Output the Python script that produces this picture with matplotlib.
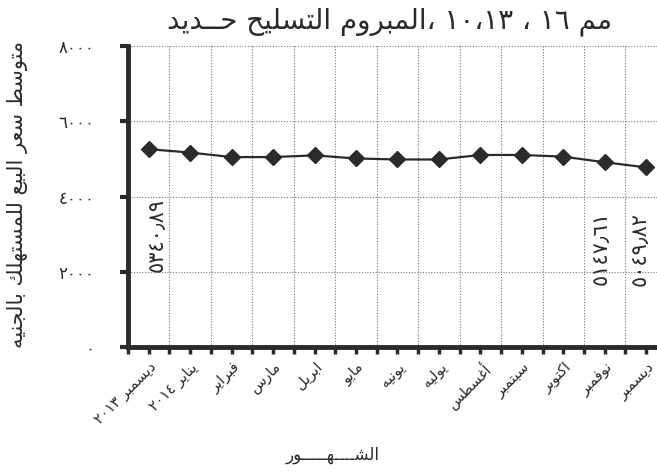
import numpy as np
import matplotlib
matplotlib.use("Agg")
import matplotlib.pyplot as plt

# ---------------- data ----------------
months = ["ديسمبر ٢٠١٣", "يناير ٢٠١٤", "فبراير", "مارس", "ابريل", "مايو",
          "يونيه", "يوليه", "أغسطس", "سبتمبر", "اكتوبر", "نوفمبر", "ديسمبر"]
prices = [5258, 5168, 5048, 5048, 5093, 5011, 4984, 4984, 5104, 5104, 5059, 4910, 4774]
ytick_vals = [0, 2000, 4000, 6000, 8000]
ytick_labels = ["٠", "٢٠٠٠", "٤٠٠٠", "٦٠٠٠", "٨٠٠٠"]
note_idx = [0, 11, 12]
note_texts = ["٥٣٤٠٫٨٩", "٥١٤٧٫٦١", "٥٠٤٩٫٨٢"]
title_words = ["حــديد", "التسليح", "المبروم،", "١٠،١٣", "،", "١٦", "مم"]
ylabel_text = "متوسط سعر البيع للمستهلك بالجنيه"
xlabel_text = "الشــــهـــــور"

# ---------------- minimal Arabic shaping ----------------
FORMS = {
    'ا': ('\uFE8D', '\uFE8E', None, None), 'أ': ('\uFE83', '\uFE84', None, None),
    'إ': ('\uFE87', '\uFE88', None, None), 'آ': ('\uFE81', '\uFE82', None, None),
    'ب': ('\uFE8F', '\uFE90', '\uFE91', '\uFE92'), 'ة': ('\uFE93', '\uFE94', None, None),
    'ت': ('\uFE95', '\uFE96', '\uFE97', '\uFE98'), 'ث': ('\uFE99', '\uFE9A', '\uFE9B', '\uFE9C'),
    'ج': ('\uFE9D', '\uFE9E', '\uFE9F', '\uFEA0'), 'ح': ('\uFEA1', '\uFEA2', '\uFEA3', '\uFEA4'),
    'خ': ('\uFEA5', '\uFEA6', '\uFEA7', '\uFEA8'), 'د': ('\uFEA9', '\uFEAA', None, None),
    'ذ': ('\uFEAB', '\uFEAC', None, None), 'ر': ('\uFEAD', '\uFEAE', None, None),
    'ز': ('\uFEAF', '\uFEB0', None, None), 'س': ('\uFEB1', '\uFEB2', '\uFEB3', '\uFEB4'),
    'ش': ('\uFEB5', '\uFEB6', '\uFEB7', '\uFEB8'), 'ص': ('\uFEB9', '\uFEBA', '\uFEBB', '\uFEBC'),
    'ض': ('\uFEBD', '\uFEBE', '\uFEBF', '\uFEC0'), 'ط': ('\uFEC1', '\uFEC2', '\uFEC3', '\uFEC4'),
    'ظ': ('\uFEC5', '\uFEC6', '\uFEC7', '\uFEC8'), 'ع': ('\uFEC9', '\uFECA', '\uFECB', '\uFECC'),
    'غ': ('\uFECD', '\uFECE', '\uFECF', '\uFED0'), 'ف': ('\uFED1', '\uFED2', '\uFED3', '\uFED4'),
    'ق': ('\uFED5', '\uFED6', '\uFED7', '\uFED8'), 'ك': ('\uFED9', '\uFEDA', '\uFEDB', '\uFEDC'),
    'ل': ('\uFEDD', '\uFEDE', '\uFEDF', '\uFEE0'), 'م': ('\uFEE1', '\uFEE2', '\uFEE3', '\uFEE4'),
    'ن': ('\uFEE5', '\uFEE6', '\uFEE7', '\uFEE8'), 'ه': ('\uFEE9', '\uFEEA', '\uFEEB', '\uFEEC'),
    'و': ('\uFEED', '\uFEEE', None, None), 'ى': ('\uFEEF', '\uFEF0', None, None),
    'ي': ('\uFEF1', '\uFEF2', '\uFEF3', '\uFEF4'),
}
TATWEEL = 'ـ'
DIGITS = set('0123456789٠١٢٣٤٥٦٧٨٩')


def _joins_next(c):
    return c == TATWEEL or (c in FORMS and FORMS[c][2] is not None)


def _joinable(c):
    return c == TATWEEL or c in FORMS


def shape(s):
    out = []
    for i, c in enumerate(s):
        if c not in FORMS:
            out.append(c)
            continue
        prev = s[i - 1] if i > 0 else ''
        nxt = s[i + 1] if i + 1 < len(s) else ''
        jp = bool(prev) and _joins_next(prev)
        jn = bool(nxt) and _joinable(nxt) and FORMS[c][2] is not None
        iso, fin, ini, med = FORMS[c]
        out.append(med if (jp and jn) else fin if jp else ini if jn else iso)
    return ''.join(out)


def rtl(s):
    sh = shape(s)
    runs, i = [], 0
    while i < len(sh):
        if sh[i] in DIGITS:
            j = i
            while j < len(sh) and (sh[j] in DIGITS or (sh[j] in '٫.,،' and j + 1 < len(sh) and sh[j + 1] in DIGITS)):
                j += 1
            runs.append(sh[i:j])
            i = j
        else:
            runs.append(sh[i])
            i += 1
    return ''.join(reversed(runs))


def ltr_words(words):
    out = []
    for w in words:
        if w.endswith('،') and len(w) > 1:
            out.append(rtl(w[:-1]) + '،')
        else:
            out.append(rtl(w))
    return ' '.join(out)


# ---------------- figure ----------------
plt.rcParams['font.family'] = ['DejaVu Sans']
W, H = 657, 472
fig = plt.figure(figsize=(W / 100, H / 100), dpi=100)
fig.patch.set_facecolor('white')
ax = fig.add_axes([128 / W, (H - 347) / H, (W - 128) / W, (347 - 46) / H])

ink = '#2b2b2b'
x = np.arange(len(months))
ax.plot(x, prices, color=ink, lw=1.6, marker='D', ms=8, mfc=ink, mec=ink, zorder=3)

ax.set_xlim(-0.5, 12.26)
ax.set_ylim(0, 8000)

for s in ['top', 'right']:
    ax.spines[s].set_visible(False)
for s in ['left', 'bottom']:
    ax.spines[s].set_linewidth(3.5)
    ax.spines[s].set_color(ink)

ax.set_yticks(ytick_vals)
ax.set_yticklabels(ytick_labels, fontsize=12, color=ink)
ax.set_xticks(x)
ax.set_xticklabels([rtl(m) for m in months], rotation=45, ha='right', va='top',
                   rotation_mode='anchor', fontsize=10.5, color=ink)
ax.set_xticks(np.arange(-0.5, 12.5, 1.0), minor=True)
ax.tick_params(axis='x', which='both', direction='out', length=5, width=2.5, color=ink, pad=4)
ax.tick_params(axis='y', which='major', direction='out', length=6, width=3, color=ink, pad=18)

grid_style = dict(color='#7a7a7a', linestyle=(0, (1, 1.5)), linewidth=0.8)
ax.grid(axis='y', which='major', **grid_style)
ax.grid(axis='x', which='minor', **grid_style)
ax.grid(axis='x', which='major', visible=False)
ax.set_axisbelow(True)

offsets = [(8, -86), (-4, -86), (-7, -82)]
for k, (i, t) in enumerate(zip(note_idx, note_texts)):
    ax.annotate(t, (x[i], prices[i]), xytext=offsets[k], textcoords='offset pixels',
                rotation=90, ha='center', va='center', fontsize=15, color=ink)

fig.text(390 / W, 1 - 22 / H, ltr_words(title_words), ha='center', va='center',
         fontsize=20, color=ink)
fig.text(18 / W, 1 - 195 / H, rtl(ylabel_text), rotation=90, ha='center', va='center',
         fontsize=15, color=ink)
fig.text(333 / W, 1 - 455 / H, rtl(xlabel_text), ha='center', va='center',
         fontsize=12, color=ink)

fig.savefig('out.png', dpi=100, facecolor='white')
